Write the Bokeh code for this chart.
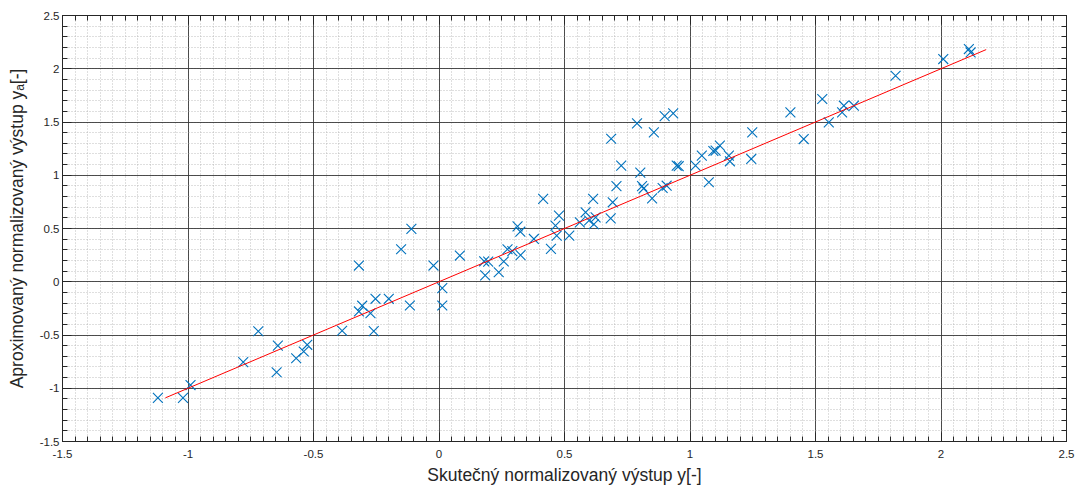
import numpy as np
from bokeh.plotting import figure
from bokeh.models import FixedTicker, LinearAxis, Range1d
from bokeh.embed import file_html
from bokeh.resources import INLINE

# ---- data ----
actual = [-1.12, -1.02, -0.99, -0.78, -0.72, -0.647, -0.642, -0.569, -0.539, -0.525,
          -0.386, -0.319, -0.110, -0.151, -0.022, 0.083, 0.013, 0.013, -0.116, -0.200,
          -0.253, -0.306, -0.319, -0.273, -0.260, 0.180, 0.196, 0.184, 0.238, 0.258,
          0.273, 0.292, 0.325, 0.313, 0.324, 0.378, 0.415, 0.446, 0.464, 0.478,
          0.469, 0.519, 0.561, 0.584, 0.614, 0.617, 0.624, 0.598, 0.692, 0.684,
          0.707, 0.686, 0.726, 0.789, 0.856, 0.802, 0.809, 0.815, 0.849, 0.899,
          0.933, 0.891, 0.907, 0.947, 0.955, 1.022, 1.047, 1.075, 1.093, 1.102,
          1.119, 1.155, 1.159, 1.248, 1.244, 1.400, 1.453, 1.527, 1.553, 1.606,
          1.613, 1.653, 1.819, 2.009, 2.111, 2.118]
approx = [-1.09, -1.09, -0.97, -0.755, -0.465, -0.85, -0.60, -0.718, -0.655, -0.592,
          -0.46, 0.152, 0.496, 0.305, 0.152, 0.246, -0.06, -0.223, -0.223, -0.160,
          -0.160, -0.225, -0.279, -0.296, -0.464, 0.192, 0.189, 0.060, 0.089, 0.190,
          0.305, 0.288, 0.250, 0.520, 0.470, 0.402, 0.778, 0.309, 0.527, 0.621,
          0.433, 0.433, 0.558, 0.652, 0.778, 0.540, 0.605, 0.575, 0.746, 0.595,
          0.898, 1.343, 1.090, 1.487, 1.403, 1.025, 0.898, 0.875, 0.783, 1.555,
          1.581, 0.880, 0.902, 1.090, 1.085, 1.090, 1.184, 0.934, 1.228, 1.231,
          1.278, 1.184, 1.131, 1.403, 1.153, 1.590, 1.340, 1.716, 1.496, 1.590,
          1.653, 1.653, 1.934, 2.091, 2.185, 2.153]

ideal_x = [-1.09, 2.18]
ideal_y = [-1.09, 2.18]

x_ticks = [-1.5, -1.0, -0.5, 0.0, 0.5, 1.0, 1.5, 2.0, 2.5]
x_tick_labels = ["-1.5", "-1", "-0.5", "0", "0.5", "1", "1.5", "2", "2.5"]
y_ticks = [-1.5, -1.0, -0.5, 0.0, 0.5, 1.0, 1.5, 2.0, 2.5]
y_tick_labels = ["-1.5", "-1", "-0.5", "0", "0.5", "1", "1.5", "2", "2.5"]

x_label = "Skutečný normalizovaný výstup y[-]"
y_label = "Aproximovaný normalizovaný výstup yₐ[-]"

FONT = "Liberation Sans"
LABEL_FONT = "Liberation Sans, DejaVu Sans"
DARK = "#262626"

x_minor = [round(v, 3) for v in np.arange(-1.5, 2.5001, 0.05)]
y_minor = [round(v, 3) for v in np.arange(-1.5, 2.5001, 0.1)]

xt = FixedTicker(ticks=x_ticks, minor_ticks=x_minor)
yt = FixedTicker(ticks=y_ticks, minor_ticks=y_minor)

p = figure(width=1078, height=487, output_backend="svg", toolbar_location=None,
           x_range=Range1d(-1.5, 2.5), y_range=Range1d(-1.5, 2.5),
           min_border_left=62, min_border_right=12, min_border_top=15, min_border_bottom=46)
p.background_fill_color = "white"
p.border_fill_color = "white"
p.outline_line_color = DARK
p.outline_line_width = 1

# grids
for g, t in ((p.xgrid, xt), (p.ygrid, yt)):
    g.ticker = t
    g.grid_line_color = "#303030"
    g.grid_line_alpha = 0.85
    g.grid_line_width = 1
    g.minor_grid_line_color = "#a8a8a8"
    g.minor_grid_line_alpha = 0.75
    g.minor_grid_line_dash = "1 2"
    g.minor_grid_line_width = 1

def style_axis(ax, ticker, labels, show_labels=True):
    ax.ticker = ticker
    ax.major_label_overrides = {t: l for t, l in zip(ticker.ticks, labels)}
    ax.axis_line_color = DARK
    ax.major_tick_line_color = DARK
    ax.minor_tick_line_color = DARK
    ax.major_tick_in = 9
    ax.major_tick_out = 0
    ax.minor_tick_in = 5
    ax.minor_tick_out = 0
    ax.major_label_text_font = FONT
    if show_labels:
        ax.major_label_text_font_size = "11.5px"
        ax.major_label_text_color = DARK
    else:
        ax.major_label_text_font_size = "1px"
        ax.major_label_text_color = None
    ax.axis_label_text_font = LABEL_FONT
    ax.axis_label_text_font_size = "17.5px"
    ax.axis_label_text_font_style = "normal"
    ax.axis_label_text_color = DARK

style_axis(p.xaxis[0], xt, x_tick_labels)
style_axis(p.yaxis[0], yt, y_tick_labels)
p.xaxis[0].axis_label = x_label
p.yaxis[0].axis_label = y_label
p.xaxis[0].major_label_standoff = 8
p.xaxis[0].axis_label_standoff = 4
p.yaxis[0].major_label_standoff = 3
p.yaxis[0].axis_label_standoff = 10

top = LinearAxis()
style_axis(top, xt, x_tick_labels, show_labels=False)
top.major_label_standoff = 0
right = LinearAxis()
style_axis(right, yt, y_tick_labels, show_labels=False)
right.major_label_standoff = 0
p.add_layout(top, "above")
p.add_layout(right, "right")

p.scatter(actual, approx, marker="x", size=14, line_color="#0072BD", line_width=1.1)
p.line(ideal_x, ideal_y, line_color="#FF0000", line_width=1)

open("out.html", "w").write(file_html(p, INLINE))
